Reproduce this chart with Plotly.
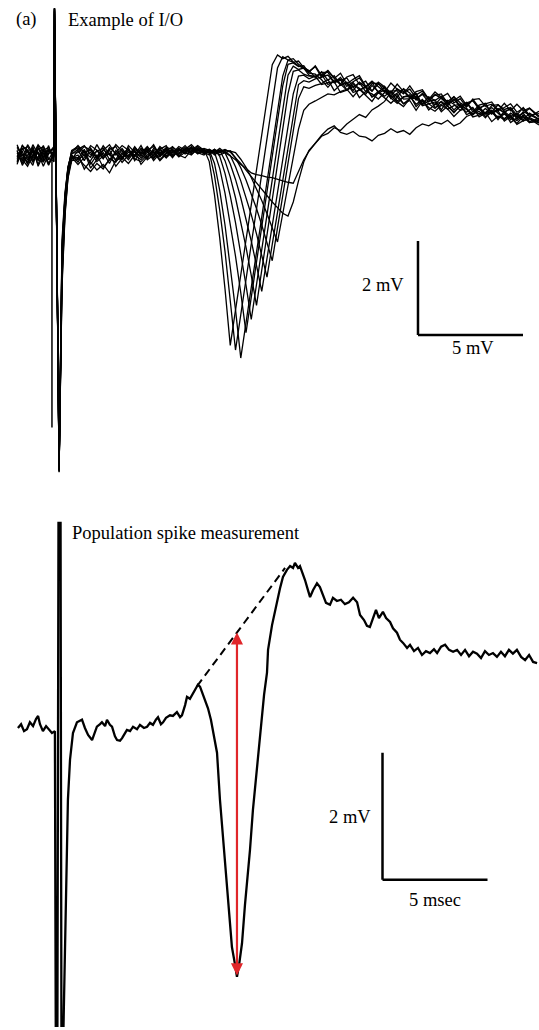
import plotly.graph_objects as go

# ---------------- Panel (a): input/output family of field potentials ----------------
# shared sample times (ms from stimulus) for all sweeps
sweep_t_ms = [-1.9, -1.65, -1.4, -1.15, -0.9, -0.65, -0.4, -0.15,
              -0.12, 0.1,
              0.24, 0.38, 0.52, 0.7,
              1.0, 1.3, 1.6, 1.9, 2.2, 2.5, 2.8, 3.1, 3.4, 3.7, 4.0, 4.3, 4.6, 4.9,
              5.2, 5.5, 5.8, 6.1, 6.4, 6.7,
              7.0, 7.25, 7.5, 7.75, 8.0, 8.25, 8.5, 8.75, 9.0, 9.25, 9.5, 9.75, 10.0,
              10.25, 10.5, 10.75, 11.0, 11.25, 11.5, 11.75, 12.0,
              12.3, 12.6, 12.9, 13.2, 13.5, 13.8, 14.1, 14.4, 14.7, 15.0, 15.3, 15.6,
              15.9, 16.2, 16.5, 16.8, 17.1, 17.4, 17.7, 18.0, 18.3, 18.6, 18.9, 19.2,
              19.5, 19.8, 20.1, 20.4, 20.7, 21.0, 21.3, 21.6, 21.9, 22.2, 22.5, 22.95]

# sweep voltages (mV), strongest stimulus first
sweep_01 = [0.05, -0.18, 0.12, -0.08, 0.2, -0.05, 0.1, -0.02, 3.12, -6.72, -2.2, -1.0, -0.4, -0.1,
            0.1, -0.12, 0.15, -0.05, 0.2, 0.02, -0.1, 0.12, -0.04, 0.18, 0.0, -0.08, 0.14, 0.05, -0.06, 0.16, 0.08, 0.2, 0.05, 0.15,
            0.12, -0.14, -0.85, -1.77, -2.85, -4.05, -3.3, -2.55, -1.8, -1.05, -0.3, 0.45, 1.2, 1.92, 2.13, 2.05, 2.1, 1.98, 1.9, 1.84, 1.76,
            1.9, 1.69, 1.8, 1.64, 1.51, 1.66, 1.71, 1.5, 1.57, 1.36, 1.55, 1.45, 1.32, 1.51, 1.35, 1.22, 1.35, 1.39, 1.19, 1.27,
            1.3, 1.1, 1.16, 1.25, 1.06, 1.17, 0.97, 1.09, 1.13, 0.95, 1.01, 1.09, 0.91, 0.99, 0.81, 0.93]
sweep_02 = [-0.12, 0.08, -0.2, 0.15, -0.1, 0.05, -0.22, 0.06, 3.1, -6.68, -2.6, -1.2, -0.45, 0.0,
            -0.15, 0.08, -0.28, -0.1, 0.05, -0.18, 0.1, -0.05, 0.15, -0.12, 0.08, 0.12, -0.02, 0.18, 0.06, 0.0, 0.14, 0.04, 0.18, 0.1,
            0.08, 0.06, -0.44, -1.18, -2.05, -3.07, -4.15, -3.4, -2.65, -1.9, -1.15, -0.4, 0.35, 1.1, 1.85, 2.09, 2.02, 2.05, 1.93, 1.86, 1.8,
            1.65, 1.77, 1.59, 1.69, 1.48, 1.55, 1.37, 1.55, 1.44, 1.55, 1.32, 1.46, 1.23, 1.32, 1.4, 1.21, 1.3, 1.08, 1.24, 1.16,
            1.25, 1.05, 1.19, 1.02, 1.12, 0.92, 1.06, 1.1, 0.88, 0.98, 0.9, 1.0, 0.76, 0.92, 0.86, 0.75]
sweep_03 = [0.18, 0.0, -0.1, 0.22, 0.02, -0.15, 0.08, 0.12, 3.05, -6.75, -1.9, -0.85, -0.3, 0.05,
            0.2, 0.05, -0.05, 0.22, -0.02, 0.12, 0.18, -0.08, 0.06, 0.0, 0.2, -0.05, 0.1, 0.02, 0.16, 0.12, -0.02, 0.12, 0.22, 0.08,
            0.14, 0.1, -0.18, -0.76, -1.49, -2.34, -3.29, -4.32, -3.57, -2.82, -2.07, -1.32, -0.57, 0.18, 0.93, 1.68, 2.02, 1.97, 2.0, 1.86, 1.78,
            1.88, 1.65, 1.79, 1.63, 1.74, 1.51, 1.61, 1.69, 1.46, 1.57, 1.46, 1.34, 1.53, 1.4, 1.3, 1.47, 1.28, 1.36, 1.18, 1.34,
            1.23, 1.31, 1.11, 1.2, 1.02, 1.18, 1.2, 1.04, 1.08, 0.94, 1.1, 0.94, 1.08, 0.94, 1.0, 0.83]
sweep_04 = [-0.05, 0.2, 0.06, -0.16, 0.12, 0.18, -0.08, -0.12, 3.12, -6.6, -2.4, -1.1, -0.38, -0.08,
            -0.05, -0.22, -0.35, -0.18, -0.3, -0.08, -0.15, 0.05, -0.1, 0.08, -0.06, 0.1, -0.12, 0.04, 0.12, -0.04, 0.1, 0.06, 0.0, 0.14,
            0.04, 0.12, 0.06, -0.29, -0.81, -1.44, -2.15, -2.93, -3.78, -3.03, -2.28, -1.53, -0.78, -0.03, 0.72, 1.47, 1.93, 1.96, 1.88, 1.9, 1.74,
            1.72, 1.6, 1.44, 1.6, 1.51, 1.38, 1.54, 1.38, 1.45, 1.24, 1.35, 1.43, 1.2, 1.29, 1.09, 1.2, 1.25, 1.09, 1.23, 1.01,
            1.08, 1.12, 0.96, 1.09, 0.97, 0.85, 0.99, 0.89, 1.01, 0.89, 0.77, 0.89, 0.81, 0.89, 0.71, 0.78]
sweep_05 = [0.1, -0.22, 0.0, 0.08, -0.2, 0.1, 0.16, -0.06, 3.08, -6.7, -2.0, -0.9, -0.25, 0.02,
            0.12, 0.2, 0.0, 0.08, 0.15, -0.1, 0.05, 0.2, 0.1, -0.04, 0.14, 0.06, 0.22, -0.02, 0.08, 0.18, 0.04, 0.14, 0.1, 0.2,
            0.1, 0.05, 0.12, -0.03, -0.39, -0.87, -1.44, -2.09, -2.77, -3.5, -2.75, -2.0, -1.25, -0.5, 0.25, 1.0, 1.7, 1.89, 1.82, 1.85, 1.7,
            1.66, 1.76, 1.76, 1.54, 1.59, 1.64, 1.44, 1.54, 1.35, 1.52, 1.53, 1.35, 1.36, 1.23, 1.41, 1.32, 1.17, 1.31, 1.21, 1.07,
            1.22, 1.14, 1.24, 1.03, 1.11, 1.15, 0.99, 0.89, 1.05, 1.07, 0.93, 0.97, 0.81, 0.89, 0.99, 0.8]
sweep_06 = [-0.2, 0.12, 0.18, -0.02, 0.05, -0.24, 0.02, 0.15, 3.12, -6.55, -2.8, -1.3, -0.5, -0.12,
            -0.1, 0.0, -0.15, -0.32, -0.2, -0.38, -0.12, -0.05, -0.18, 0.0, -0.1, 0.06, -0.08, 0.1, -0.02, 0.08, 0.02, 0.12, 0.16, 0.05,
            0.0, 0.09, 0.06, 0.1, -0.12, -0.47, -0.91, -1.4, -1.96, -2.56, -3.2, -2.45, -1.7, -0.95, -0.2, 0.55, 1.3, 1.78, 1.81, 1.72, 1.68,
            1.68, 1.5, 1.54, 1.56, 1.33, 1.38, 1.46, 1.22, 1.35, 1.3, 1.19, 1.33, 1.26, 1.13, 1.03, 1.2, 1.21, 1.05, 1.09, 1.13,
            0.92, 1.04, 0.92, 1.03, 0.91, 1.01, 0.81, 0.89, 0.91, 0.79, 0.91, 0.69, 0.79, 0.81, 0.69, 0.74]
sweep_07 = [0.22, -0.06, -0.15, 0.1, -0.12, 0.14, -0.18, 0.04, 3.0, -6.72, -2.1, -0.95, -0.32, 0.04,
            0.05, 0.18, 0.1, -0.06, 0.12, 0.0, 0.22, 0.08, -0.06, 0.12, 0.04, 0.18, 0.02, -0.04, 0.14, 0.04, 0.18, 0.1, 0.06, 0.18,
            0.06, 0.0, 0.1, 0.07, 0.05, -0.19, -0.52, -0.91, -1.35, -1.83, -2.35, -2.9, -2.2, -1.5, -0.8, -0.1, 0.6, 1.3, 1.68, 1.7, 1.62,
            1.68, 1.72, 1.5, 1.56, 1.61, 1.38, 1.5, 1.42, 1.29, 1.48, 1.35, 1.25, 1.36, 1.37, 1.19, 1.2, 1.31, 1.07, 1.15, 1.17,
            0.96, 1.16, 1.08, 0.95, 1.11, 0.97, 0.87, 0.99, 0.87, 0.99, 0.91, 0.75, 0.89, 0.75, 0.89, 0.76]
sweep_08 = [-0.08, 0.15, -0.05, -0.22, 0.16, -0.1, 0.2, -0.15, 3.1, -6.65, -2.5, -1.05, -0.42, -0.05,
            -0.2, -0.05, 0.06, -0.14, -0.02, 0.1, -0.12, 0.02, 0.14, -0.08, -0.14, 0.0, 0.08, -0.1, 0.04, 0.1, -0.04, 0.06, 0.14, 0.02,
            0.1, 0.12, 0.03, 0.1, 0.08, -0.01, -0.25, -0.55, -0.89, -1.27, -1.68, -2.12, -2.6, -1.9, -1.2, -0.5, 0.2, 0.9, 1.5, 1.58, 1.55,
            1.62, 1.66, 1.7, 1.54, 1.65, 1.46, 1.56, 1.64, 1.45, 1.36, 1.51, 1.43, 1.26, 1.41, 1.33, 1.4, 1.21, 1.29, 1.13, 1.29,
            1.2, 1.08, 1.24, 1.11, 1.03, 1.19, 1.01, 1.05, 0.91, 1.07, 0.97, 1.01, 0.85, 1.01, 0.85, 0.88]
sweep_09 = [0.0, -0.12, 0.22, 0.04, -0.06, 0.2, -0.1, 0.1, 3.12, -6.74, -1.8, -0.8, -0.28, 0.08,
            0.15, -0.02, 0.2, 0.1, -0.08, 0.16, 0.04, -0.1, 0.2, 0.06, -0.02, 0.16, -0.06, 0.12, 0.2, -0.02, 0.1, 0.16, 0.02, 0.12,
            0.02, 0.1, 0.06, 0.14, 0.05, 0.09, -0.06, -0.27, -0.53, -0.82, -1.14, -1.49, -1.86, -2.25, -1.55, -0.85, -0.15, 0.55, 1.2, 1.45, 1.42,
            1.48, 1.52, 1.61, 1.37, 1.5, 1.53, 1.33, 1.39, 1.44, 1.23, 1.32, 1.38, 1.21, 1.1, 1.24, 1.25, 1.08, 1.18, 0.96, 1.08,
            1.13, 0.97, 1.05, 1.08, 0.86, 0.92, 1.0, 0.82, 0.9, 0.94, 0.72, 0.82, 0.86, 0.72, 0.8, 0.69]
sweep_10 = [0.14, 0.02, -0.18, 0.18, -0.24, 0.0, 0.12, -0.04, 3.06, -6.62, -2.3, -1.15, -0.36, -0.02,
            -0.08, 0.12, -0.2, 0.0, -0.26, -0.1, 0.04, -0.16, 0.0, 0.1, -0.2, -0.04, 0.06, -0.12, 0.02, 0.12, 0.0, -0.06, 0.1, 0.06,
            0.08, 0.04, 0.12, 0.05, 0.1, 0.08, 0.05, -0.09, -0.26, -0.48, -0.71, -0.97, -1.25, -1.54, -1.85, -1.25, -0.65, -0.05, 0.55, 0.95, 1.08,
            1.15, 1.22, 1.3, 1.28, 1.35, 1.4, 1.24, 1.4, 1.27, 1.14, 1.33, 1.21, 1.1, 1.23, 1.09, 1.16, 0.95, 1.15, 1.01, 0.93,
            1.06, 0.98, 0.82, 0.95, 0.99, 0.81, 0.85, 0.91, 0.71, 0.83, 0.75, 0.85, 0.65, 0.73, 0.77, 0.64]
sweep_11 = [-0.16, 0.2, 0.08, -0.12, 0.06, -0.14, 0.04, 0.18, 3.1, -6.7, -2.7, -1.25, -0.48, -0.06,
            0.0, -0.3, -0.12, 0.1, -0.06, 0.04, -0.24, -0.08, 0.1, -0.02, 0.12, -0.1, 0.0, 0.15, -0.06, 0.06, 0.14, 0.02, 0.08, 0.12,
            0.05, 0.1, 0.0, 0.08, 0.12, 0.06, -0.05, -0.18, -0.32, -0.46, -0.6, -0.74, -0.88, -1.0, -1.12, -1.24, -1.3, -1.0, -0.55, -0.15, 0.1,
            0.25, 0.4, 0.46, 0.58, 0.52, 0.66, 0.76, 0.86, 0.8, 0.96, 1.04, 1.14, 1.34, 1.15, 1.23, 1.28, 1.03, 1.17, 1.09, 0.99,
            1.14, 1.04, 0.9, 1.05, 0.99, 0.87, 1.03, 0.87, 0.93, 0.75, 0.93, 0.81, 0.73, 0.85, 0.77, 0.68]
sweep_12 = [0.08, -0.1, -0.24, 0.0, 0.22, 0.08, -0.2, 0.0, 3.12, -6.58, -2.0, -0.92, -0.3, 0.1,
            0.18, 0.06, 0.12, -0.08, 0.1, 0.22, 0.0, 0.14, -0.04, 0.16, 0.02, 0.1, 0.18, 0.0, 0.1, -0.06, 0.12, 0.08, 0.14, 0.04,
            0.12, 0.04, 0.1, 0.0, 0.05, -0.02, -0.1, -0.2, -0.28, -0.38, -0.42, -0.44, -0.47, -0.48, -0.52, -0.55, -0.58, -0.6, -0.35, -0.1, 0.08,
            0.25, 0.42, 0.55, 0.62, 0.48, 0.44, 0.5, 0.4, 0.38, 0.3, 0.42, 0.46, 0.56, 0.48, 0.52, 0.44, 0.58, 0.66, 0.62, 0.7,
            0.66, 0.74, 0.62, 0.68, 0.82, 0.88, 0.93, 0.79, 0.95, 0.79, 0.87, 0.79, 0.67, 0.83, 0.69, 0.72]

# extra stimulus-artifact stroke seen just before the stimulus onset
artifact_t_ms = [-0.24, -0.24]
artifact_mv = [-0.1, -5.8]

# ---------------- Panel (b): single sweep used for population spike measurement ----------------
ps_t_ms = [-1.86, -1.71, -1.57, -1.43, -1.29, -1.14, -1.0, -0.9, -0.81, -0.67, -0.52, -0.38, -0.24, -0.1,
           -0.06, 0.02, 0.07, 0.17, 0.21, 0.31,
           0.38, 0.48, 0.52, 0.62, 0.76, 0.95, 1.19, 1.33, 1.48, 1.67, 1.81, 1.9, 2.05, 2.14, 2.29, 2.38,
           2.52, 2.62, 2.76, 2.86, 3.0, 3.1, 3.24, 3.33, 3.48, 3.62, 3.81, 3.95, 4.14, 4.29, 4.43, 4.57,
           4.71, 4.81, 4.95, 5.05, 5.19, 5.38, 5.52, 5.71, 5.86, 5.95, 6.1, 6.19, 6.33, 6.48, 6.62, 6.71,
           6.81, 6.9, 7.05, 7.19, 7.33, 7.48, 7.62, 7.76, 7.9, 8.0, 8.14, 8.24, 8.33, 8.48, 8.57, 8.67,
           8.81, 8.95, 9.1, 9.19, 9.33, 9.52, 9.67, 9.76, 9.86, 10.0, 10.05, 10.24, 10.48, 10.62, 10.76,
           10.95, 11.1, 11.24, 11.33, 11.48, 11.57, 11.67, 11.81, 11.95, 12.05, 12.19, 12.38, 12.52, 12.67,
           12.81, 13.0, 13.14, 13.33, 13.52, 13.71, 13.9, 14.1, 14.29, 14.43, 14.62, 14.76, 14.9, 15.05,
           15.19, 15.33, 15.52, 15.67, 15.86, 16.0, 16.19, 16.33, 16.48, 16.67, 16.81, 17.0, 17.19, 17.38,
           17.57, 17.76, 17.95, 18.1, 18.29, 18.48, 18.67, 18.86, 19.05, 19.24, 19.43, 19.62, 19.81, 20.0,
           20.19, 20.38, 20.57, 20.76, 20.95, 21.14, 21.33, 21.52, 21.71, 21.9, 22.1, 22.29, 22.48, 22.67, 22.86]
ps_mv = [0.0, 0.06, -0.05, -0.02, 0.09, 0.03, 0.14, 0.19, 0.06, -0.05, 0.03, -0.02, -0.08, -0.05,
         -4.69, -4.69, 3.23, 3.23, -4.69, -4.69,
         -3.39, -2.08, -1.13, -0.5, -0.08, 0.09, 0.13, 0.0, -0.11, -0.19, -0.05, 0.02, 0.06, 0.09, 0.03, 0.13,
         0.05, 0.02, -0.13, -0.19, -0.2, -0.16, -0.08, -0.03, -0.05, 0.02, -0.02, 0.05, 0.0, 0.02, 0.08, 0.05,
         0.13, 0.17, 0.06, 0.09, 0.16, 0.2, 0.19, 0.25, 0.17, 0.2, 0.36, 0.49, 0.46, 0.55, 0.61, 0.68,
         0.65, 0.57, 0.44, 0.31, 0.13, -0.14, -0.39, -1.13, -1.69, -2.19, -2.71, -3.1, -3.45, -3.73, -3.92, -3.73,
         -3.39, -2.79, -2.31, -1.92, -1.29, -0.61, -0.19, 0.17, 0.52, 0.87, 1.23, 1.62, 2.02, 2.2, 2.38,
         2.49, 2.55, 2.52, 2.6, 2.52, 2.55, 2.46, 2.33, 2.17, 2.06, 2.17, 2.28, 2.22, 2.09,
         1.97, 1.94, 2.05, 2.0, 2.02, 1.95, 1.98, 2.05, 1.98, 1.78, 1.7, 1.61, 1.59, 1.73,
         1.86, 1.73, 1.83, 1.73, 1.67, 1.57, 1.5, 1.39, 1.34, 1.26, 1.31, 1.21, 1.26, 1.15,
         1.21, 1.18, 1.24, 1.18, 1.28, 1.31, 1.23, 1.2, 1.23, 1.15, 1.23, 1.13, 1.2, 1.17,
         1.1, 1.21, 1.15, 1.18, 1.12, 1.2, 1.13, 1.23, 1.17, 1.23, 1.12, 1.07, 1.15, 1.04, 1.02]

# baseline drawn under the population spike (from spike onset to positive peak)
tangent_t_ms = [6.67, 10.86]
tangent_mv = [0.66, 2.52]

# calibration bars
bar_ms = 5
bar_mv = 2
io_bar_corner = (17.19, -3.83)
ps_bar_corner = (15.5, -2.39)

# axis windows (ms, mV)
x_window = [-2.714, 22.952]
io_y_window = [-7.66, 3.298]
ps_y_window = [-4.756, 3.354]

SERIF = "Liberation Serif, Times New Roman, serif"
TXT = 18.5

io_sweeps = [sweep_01, sweep_02, sweep_03, sweep_04, sweep_05, sweep_06,
             sweep_07, sweep_08, sweep_09, sweep_10, sweep_11, sweep_12]

fig = go.Figure()

for sweep in io_sweeps:
    assert len(sweep) == len(sweep_t_ms)
    fig.add_trace(go.Scatter(x=sweep_t_ms, y=sweep, mode="lines",
                             line=dict(color="black", width=1.3),
                             xaxis="x", yaxis="y", hoverinfo="skip"))
fig.add_trace(go.Scatter(x=artifact_t_ms, y=artifact_mv, mode="lines",
                         line=dict(color="black", width=1.5),
                         xaxis="x", yaxis="y", hoverinfo="skip"))

assert len(ps_t_ms) == len(ps_mv)
fig.add_trace(go.Scatter(x=ps_t_ms, y=ps_mv, mode="lines",
                         line=dict(color="black", width=2.3),
                         xaxis="x2", yaxis="y2", hoverinfo="skip"))
fig.add_trace(go.Scatter(x=tangent_t_ms, y=tangent_mv, mode="lines",
                         line=dict(color="black", width=2, dash="8px,5px"),
                         xaxis="x2", yaxis="y2", hoverinfo="skip"))

# population spike amplitude: from the trough (after the stimulus artifact)
# up to the tangent line drawn across the spike
spike_idx = [i for i, t in enumerate(ps_t_ms) if tangent_t_ms[0] <= t <= tangent_t_ms[1]]
i_min = min(spike_idx, key=lambda i: ps_mv[i])
t_trough = ps_t_ms[i_min]
v_trough = ps_mv[i_min]
slope = (tangent_mv[1] - tangent_mv[0]) / (tangent_t_ms[1] - tangent_t_ms[0])
v_tangent = tangent_mv[0] + (t_trough - tangent_t_ms[0]) * slope

annotations = [
    dict(x=t_trough, y=v_tangent, ax=t_trough, ay=v_trough, xref="x2", yref="y2",
         axref="x2", ayref="y2", text="", showarrow=True, arrowside="end+start",
         arrowhead=2, startarrowhead=2, arrowsize=1.1, startarrowsize=1.1,
         arrowwidth=2.2, arrowcolor="#e0262a", standoff=0, startstandoff=0),
]

shapes = []
for (cx, cy), xr, yr in [(io_bar_corner, "x", "y"), (ps_bar_corner, "x2", "y2")]:
    shapes.append(dict(type="line", xref=xr, yref=yr, x0=cx, y0=cy, x1=cx, y1=cy + bar_mv,
                       line=dict(color="black", width=2.5)))
    shapes.append(dict(type="line", xref=xr, yref=yr, x0=cx, y0=cy, x1=cx + bar_ms, y1=cy,
                       line=dict(color="black", width=2.5)))

font = dict(family=SERIF, size=TXT, color="black")
cx, cy = io_bar_corner
annotations += [
    dict(x=cx - 1.67, y=cy + 1.07, xref="x", yref="y", text="2 mV", showarrow=False, font=font),
    dict(x=cx + 2.6, y=cy - 0.27, xref="x", yref="y", text="5 mV", showarrow=False, font=font),
]
cx, cy = ps_bar_corner
annotations += [
    dict(x=cx - 1.57, y=cy + 0.99, xref="x2", yref="y2", text="2 mV", showarrow=False, font=font),
    dict(x=cx + 2.5, y=cy - 0.32, xref="x2", yref="y2", text="5 msec", showarrow=False, font=font),
]
annotations += [
    dict(x=26 / 539, y=0.981, xref="paper", yref="paper", text="(a)", showarrow=False,
         xanchor="center", yanchor="middle", font=font),
    dict(x=66 / 539, y=0.981, xref="paper", yref="paper", text="Example of I/O", showarrow=False,
         xanchor="left", yanchor="middle", font=font),
    dict(x=70 / 539, y=0.483, xref="paper", yref="paper", text="Population spike measurement",
         showarrow=False, xanchor="left", yanchor="middle", font=font),
]

hidden = dict(visible=False, fixedrange=True)
fig.update_layout(
    width=539, height=1030,
    margin=dict(l=0, r=0, t=0, b=0),
    paper_bgcolor="white", plot_bgcolor="white",
    showlegend=False,
    xaxis=dict(domain=[0, 1], range=x_window, anchor="y", **hidden),
    yaxis=dict(domain=[0.5, 1], range=io_y_window, anchor="x", **hidden),
    xaxis2=dict(domain=[0, 1], range=x_window, anchor="y2", **hidden),
    yaxis2=dict(domain=[0, 0.5], range=ps_y_window, anchor="x2", **hidden),
    shapes=shapes,
    annotations=annotations,
)

fig.write_html("out.html")
